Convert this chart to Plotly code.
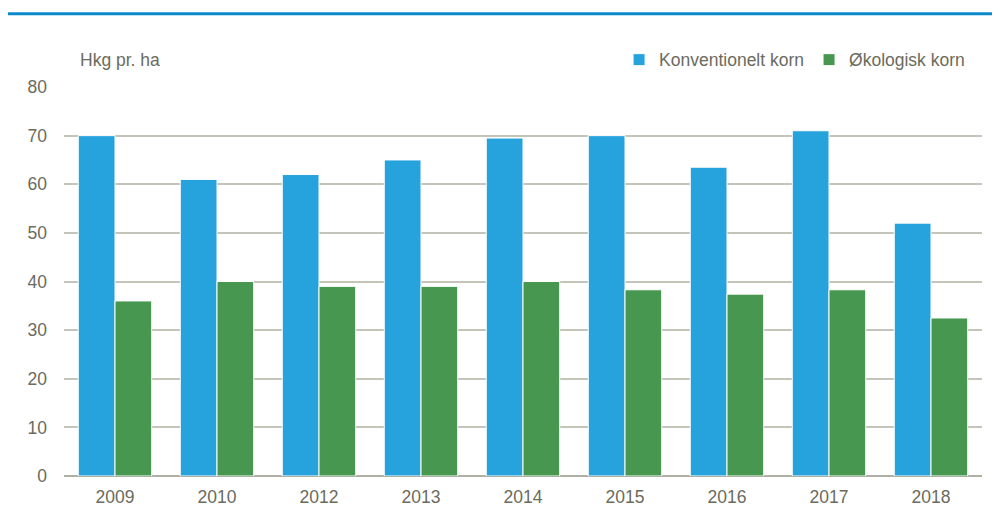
import plotly.graph_objects as go

years = ["2009", "2010", "2012", "2013", "2014", "2015", "2016", "2017", "2018"]
konventionelt = [70, 61, 62, 65, 69.5, 70, 63.5, 71, 52]
okologisk = [36, 40, 39, 39, 40, 38.3, 37.4, 38.3, 32.5]

BLUE = "#26A3DD"
GREEN = "#479750"
TEXT = "#6B6B5E"
GRID = "#C4C4B8"
FONT = "Liberation Sans, Arial, sans-serif"

fig = go.Figure()
fig.add_trace(go.Bar(
    x=years, y=konventionelt, name="Konventionelt korn",
    marker=dict(color=BLUE, line=dict(color="white", width=1)),
))
fig.add_trace(go.Bar(
    x=years, y=okologisk, name="Økologisk korn",
    marker=dict(color=GREEN, line=dict(color="white", width=1)),
))

# the page body adds an 8px margin, so the figure is a bit smaller than the window
fig.update_layout(
    width=992, height=501,
    margin=dict(l=56, r=18, t=79, b=33, autoexpand=False),
    paper_bgcolor="white", plot_bgcolor="white",
    font=dict(family=FONT, size=17.5, color=TEXT),
    barmode="group", bargap=0.28, bargroupgap=0.0,
    showlegend=True,
    legend=dict(
        orientation="h", xanchor="right", x=0.987, yanchor="middle", y=1.07,
        font=dict(size=17.5, color=TEXT), itemwidth=30, traceorder="normal",
    ),
    shapes=[dict(
        type="line", xref="paper", yref="paper",
        x0=-0.07, x1=1.03, y0=1.188, y1=1.188,
        line=dict(color="#0A8AC9", width=3),
    )],
    annotations=[dict(
        text="Hkg pr. ha", xref="paper", yref="paper",
        x=0.015, y=1.07, xanchor="left", yanchor="middle",
        showarrow=False, font=dict(size=17.5, color=TEXT),
    )],
)
fig.update_yaxes(
    range=[0, 80], dtick=10, showgrid=True, gridcolor=GRID, gridwidth=1.5,
    zeroline=True, zerolinecolor="#B0B0A4", zerolinewidth=2,
    ticks="", ticklabelstandoff=16, showline=False, automargin=False,
)
fig.update_xaxes(showgrid=False, ticks="", showline=False, ticklabelstandoff=8,
                 automargin=False)

fig.write_html("out.html")
